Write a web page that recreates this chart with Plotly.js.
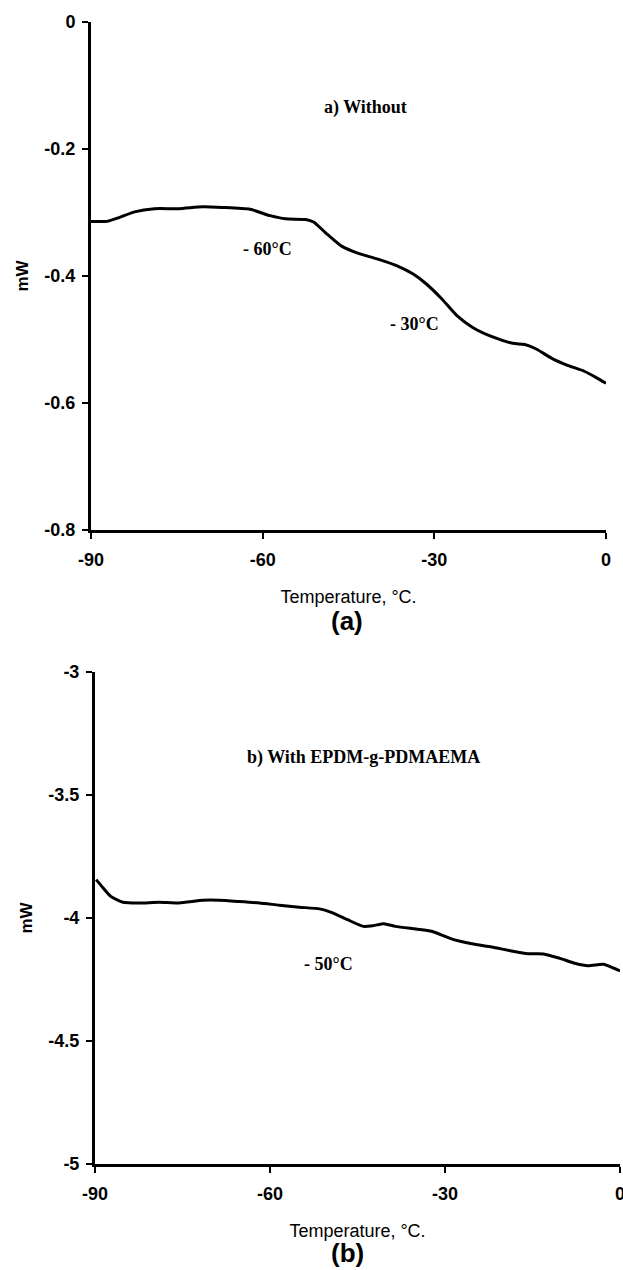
<!DOCTYPE html>
<html>
<head>
<meta charset="utf-8">
<script src="https://cdn.plot.ly/plotly-3.0.1.min.js"></script>
<style>html,body{margin:0;padding:0;background:#fff;}#chart{width:623px;height:1270px;}</style>
</head>
<body>
<div id="chart"></div>
<script>
// Panel (a): without compatibilizer
var tempA = [-90,-87.2,-85.1,-82.4,-78.9,-74.7,-70.5,-67.1,-62.2,-58.7,-56.0,-52.5,-51.1,-49.0,-46.2,-43.4,-40.0,-36.5,-33.7,-31.6,-28.8,-26.1,-23.3,-19.8,-16.3,-14.2,-12.2,-9.4,-6.6,-3.8,-1.7,0];
var mwA = [-0.314,-0.314,-0.308,-0.299,-0.294,-0.294,-0.291,-0.292,-0.295,-0.305,-0.310,-0.311,-0.315,-0.332,-0.353,-0.364,-0.373,-0.384,-0.397,-0.411,-0.435,-0.462,-0.481,-0.496,-0.506,-0.508,-0.515,-0.530,-0.541,-0.550,-0.560,-0.569];
// Panel (b): with EPDM-g-PDMAEMA
var tempB = [-89.8,-88.6,-87.3,-85.2,-82.4,-79.0,-75.6,-71.5,-68.7,-65.3,-61.8,-58.4,-55.0,-51.5,-49.5,-46.7,-44.0,-42.3,-40.5,-38.5,-35.0,-32.3,-28.9,-25.4,-22.0,-18.6,-15.8,-13.1,-10.3,-7.6,-5.5,-3.8,-2.8,-1.4,0];
var mwB = [-3.844,-3.878,-3.912,-3.936,-3.939,-3.936,-3.939,-3.928,-3.928,-3.933,-3.939,-3.948,-3.956,-3.963,-3.977,-4.007,-4.034,-4.031,-4.023,-4.034,-4.045,-4.054,-4.085,-4.105,-4.118,-4.134,-4.145,-4.146,-4.164,-4.185,-4.194,-4.190,-4.188,-4.201,-4.215];

var xTickVals = [-90,-60,-30,0];
var xTickText = ['-90','-60','-30','0'];
var yTickValsA = [-0.8,-0.6,-0.4,-0.2,0];
var yTickTextA = ['-0.8','-0.6','-0.4','-0.2','0'];
var yTickValsB = [-5,-4.5,-4,-3.5,-3];
var yTickTextB = ['-5','-4.5','-4','-3.5','-3'];

var xTitle = 'Temperature, °C.';
var yTitle = 'mW';
var panelLabels = ['(a)','(b)'];
var notesA = [{t:'a) Without', x:-42, y:-0.134},{t:'- 60°C', x:-59.1, y:-0.358},{t:'- 30°C', x:-33.4, y:-0.476}];
var notesB = [{t:'b) With EPDM-g-PDMAEMA', x:-44, y:-3.347},{t:'- 50°C', x:-50, y:-4.185}];

var tickFont = {family:'Liberation Sans, Arial, sans-serif', size:18, color:'#000', weight:'bold'};
var titleFont = {family:'Liberation Sans, Arial, sans-serif', size:18, color:'#000'};
var yTitleFont = {family:'Liberation Sans, Arial, sans-serif', size:17, color:'#000', weight:'bold'};
var noteFont = {family:'Liberation Serif, Times New Roman, serif', size:18, color:'#000', weight:'bold'};
var panelFont = {family:'Liberation Sans, Arial, sans-serif', size:26, color:'#000', weight:'bold'};

function xax(domain, anchor){
  return {domain:domain, anchor:anchor, range:[-90,0], tickvals:xTickVals, ticktext:xTickText,
    showline:true, linecolor:'#000', linewidth:3, ticks:'outside', ticklen:6, tickwidth:2, tickcolor:'#000',
    showgrid:false, zeroline:false, tickfont:tickFont, ticklabelstandoff:5, ticklabeloverflow:'allow',
    title:{text:xTitle, font:titleFont, standoff:22}, automargin:false};
}
function yax(domain, anchor, range, tv, tt){
  return {domain:domain, anchor:anchor, range:range, tickvals:tv, ticktext:tt,
    showline:true, linecolor:'#000', linewidth:3, ticks:'outside', ticklen:6, tickwidth:2, tickcolor:'#000',
    showgrid:false, zeroline:false, tickfont:tickFont, ticklabelstandoff:3, ticklabeloverflow:'allow',
    title:{text:yTitle, font:yTitleFont, standoff:12}, automargin:false};
}

var traces = [
  {x:tempA, y:mwA, xaxis:'x', yaxis:'y', mode:'lines', line:{color:'#000', width:3, shape:'spline', smoothing:0.6}, showlegend:false, hoverinfo:'skip'},
  {x:tempB, y:mwB, xaxis:'x2', yaxis:'y2', mode:'lines', line:{color:'#000', width:3, shape:'spline', smoothing:0.6}, showlegend:false, hoverinfo:'skip'}
];

var annotations = [];
notesA.forEach(function(n){
  annotations.push({xref:'x', yref:'y', x:n.x, y:n.y, text:n.t, showarrow:false, font:noteFont});
});
notesB.forEach(function(n){
  annotations.push({xref:'x2', yref:'y2', x:n.x, y:n.y, text:n.t, showarrow:false, font:noteFont});
});
annotations.push({xref:'paper', yref:'paper', x:347/623, y:1-621/1270, text:panelLabels[0], showarrow:false, font:panelFont});
annotations.push({xref:'paper', yref:'paper', x:347/623, y:0, yanchor:'bottom', text:panelLabels[1], showarrow:false, font:panelFont});

var layout = {
  width:623, height:1270,
  margin:{l:0, r:0, t:0, b:0},
  paper_bgcolor:'#fff', plot_bgcolor:'#fff',
  showlegend:false,
  xaxis: xax([91/623, 606/623], 'y'),
  yaxis: yax([1-530/1270, 1-22/1270], 'x', [-0.8, 0], yTickValsA, yTickTextA),
  xaxis2: xax([95/623, 620/623], 'y2'),
  yaxis2: yax([1-1164/1270, 1-672/1270], 'x2', [-5, -3], yTickValsB, yTickTextB),
  annotations: annotations
};

Plotly.newPlot('chart', traces, layout, {staticPlot:true, displayModeBar:false});
</script>
</body>
</html>
